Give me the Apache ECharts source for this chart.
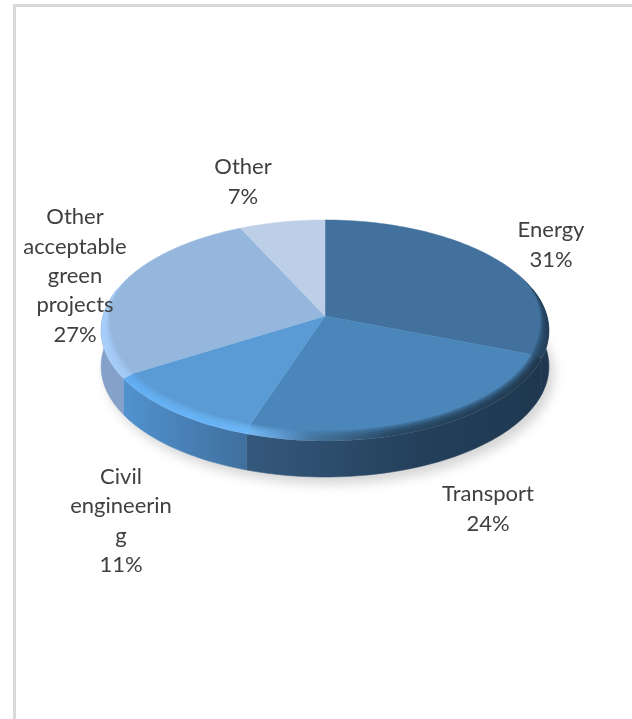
<!DOCTYPE html>
<html>
<head>
<meta charset="utf-8">
<style>html,body{margin:0;padding:0;background:#fff}#chart{width:632px;height:719px}</style>
<script src="https://cdn.jsdelivr.net/npm/echarts@6/dist/echarts.min.js"></script>
</head>
<body>
<div id="chart"></div>
<script>
// Green bond use of proceeds, by sector
const categories = ['Energy', 'Transport', 'Civil engineering', 'Other acceptable green projects', 'Other'];
const shares = [31, 24, 11, 27, 7];
const wrappedNames = ['Energy', 'Transport', 'Civil\nengineerin\ng', 'Other\nacceptable\ngreen\nprojects', 'Other'];

// Slice styling: flat top, bevelled rim and outer wall
const faceColors = ['#41719c', '#4a86ba', '#5b9bd5', '#95b6dd', '#bccfe7'];
const rimStops = [
  [[0, '#41719c'], [0.8, '#3a648b'], [0.93, '#2a4a68'], [1, '#223f5a']],
  [[0, '#74baf5'], [0.1, '#619fd8'], [0.22, '#46769f'], [0.5, '#284763'], [1, '#20394f']],
  [[0, '#62aef2'], [1, '#6cb6f7']],
  [[0, '#a8cffc'], [0.35, '#9fc4ef'], [1, '#95b6dd']],
  [[0, '#bccfe7'], [1, '#bccfe7']]
];
const wallStops = [
  [[0, '#1f3850'], [1, '#1f3850']],
  [[0, '#35597d'], [0.6, '#233f5a'], [1, '#1f3850']],
  [[0, '#5192cf'], [1, '#3f6f9d']],
  [[0, '#85a1c9'], [1, '#85a1c9']],
  [[0, '#bccfe7'], [1, '#bccfe7']]
];

// Label placement (block centre) for each slice
const labelCentres = [[551, 244], [488, 508], [121, 520], [75, 275], [243, 181]];

// Perspective disc: apex, half width, depth scale, perspective strength, wall height
const disc = { cx: 325, cy: 316, k: 222, h: 108.6, p: 0.131, wall: 36 };
const bevelSteps = [0, 0.2, 0.4, 0.6, 0.8];
const total = shares.reduce((a, b) => a + b, 0);

function startAngle(i) {
  let sum = 0;
  for (let j = 0; j < i; j++) sum += shares[j];
  return sum / total * 360;
}
function rimPoint(deg, dy) {
  const t = deg * Math.PI / 180, X = Math.sin(t), Y = -Math.cos(t), d = 1 - disc.p * Y;
  return [disc.cx + disc.k * X / d, disc.cy + disc.h * Y / d + (dy || 0)];
}
// Point on the bevel: q = 0 is the outer rim, q = 1 the edge of the flat top
function bevelPoint(deg, q) {
  const t = deg * Math.PI / 180, Y = -Math.cos(t);
  const u = Math.min(1, Math.max(0, (Y + 0.45) / 0.8));
  const s = u * u * (3 - 2 * u) * q;
  const r = rimPoint(deg);
  return [
    disc.cx + (r[0] - disc.cx) * (1 - 0.05 * s),
    disc.cy + (r[1] - disc.cy) * (1 - 0.085 * s)
  ];
}
function sweep(a, b, fn) {
  const pts = [];
  const n = Math.max(2, Math.ceil((b - a) / 1.5));
  for (let i = 0; i <= n; i++) pts.push(fn(a + (b - a) * i / n));
  return pts;
}
function mixHex(c1, c2, q) {
  const v = (c, i) => parseInt(c.substr(1 + i * 2, 2), 16);
  const out = [0, 1, 2].map(i => Math.round(v(c1, i) + (v(c2, i) - v(c1, i)) * q));
  return 'rgb(' + out.join(',') + ')';
}
function gradient(stops, toward, q) {
  return new echarts.graphic.LinearGradient(0, 0, 1, 0, stops.map(s => ({
    offset: s[0],
    color: toward ? mixHex(s[1], toward, q) : s[1]
  })));
}
function sliceRange(params, api) {
  const a = startAngle(params.dataIndex);
  return [a, a + api.value(0) / total * 360];
}

// Soft ground shadow under the whole disc
function renderShadow() {
  return {
    type: 'polygon',
    shape: { points: sweep(0, 360, d => rimPoint(d, disc.wall)) },
    style: { fill: '#fff', shadowBlur: 12, shadowColor: 'rgba(0,0,0,0.17)', shadowOffsetX: 5, shadowOffsetY: 7 }
  };
}
// Outer wall, only for the part of the edge that faces the viewer
function renderWall(params, api) {
  const [a, b] = sliceRange(params, api);
  const from = Math.max(a, 75), to = Math.min(b, 285);
  if (to <= from) return null;
  const top = sweep(from, to, d => rimPoint(d));
  const bottom = sweep(from, to, d => rimPoint(d, disc.wall)).reverse();
  const fill = gradient(wallStops[params.dataIndex]);
  return {
    type: 'polygon',
    shape: { points: top.concat(bottom) },
    style: { fill, stroke: fill, lineWidth: 0.6 }
  };
}
// Bevel as thin rings blending the rim colour towards the flat top
function renderBevel(params, api) {
  const [a, b] = sliceRange(params, api);
  const i = params.dataIndex;
  const inner = sweep(a, b, d => bevelPoint(d, 1)).reverse();
  return {
    type: 'group',
    children: bevelSteps.map(q => {
      const fill = gradient(rimStops[i], faceColors[i], q * q);
      return {
        type: 'polygon',
        shape: { points: sweep(a, b, d => bevelPoint(d, q)).concat(inner) },
        style: { fill }
      };
    })
  };
}
function renderFace(params, api) {
  const [a, b] = sliceRange(params, api);
  const color = faceColors[params.dataIndex];
  return {
    type: 'polygon',
    shape: { points: [[disc.cx, disc.cy]].concat(sweep(a, b, d => bevelPoint(d, 1))) },
    style: { fill: color, stroke: color, lineWidth: 0.5 }
  };
}

function layer(renderItem, z, data) {
  return {
    type: 'custom', coordinateSystem: 'none', renderItem, z, silent: true, clip: false,
    animation: false, data: data || shares.map((v, i) => ({ name: categories[i], value: [v] }))
  };
}

const labels = shares.map((v, i) => ({
  type: 'text',
  x: labelCentres[i][0],
  y: labelCentres[i][1] + 1,
  z: 50,
  silent: true,
  style: {
    text: wrappedNames[i] + '\n' + v + '%',
    font: '22px Lato, "Open Sans", sans-serif',
    lineHeight: 29.4,
    fill: '#404040',
    align: 'center',
    verticalAlign: 'middle'
  }
}));

const chart = echarts.init(document.getElementById('chart'), null, { renderer: 'canvas' });
chart.setOption({
  animation: false,
  backgroundColor: '#ffffff',
  graphic: [
    { type: 'rect', silent: true, shape: { x: 13, y: 4, width: 3, height: 715 }, style: { fill: '#d9d9d9' } },
    { type: 'rect', silent: true, shape: { x: 13, y: 4, width: 619, height: 3 }, style: { fill: '#d9d9d9' } }
  ].concat(labels),
  series: [
    layer(renderShadow, 1, [{ name: 'ground', value: [total] }]),
    layer(renderWall, 2),
    layer(renderBevel, 3),
    layer(renderFace, 4)
  ]
});
</script>
</body>
</html>
